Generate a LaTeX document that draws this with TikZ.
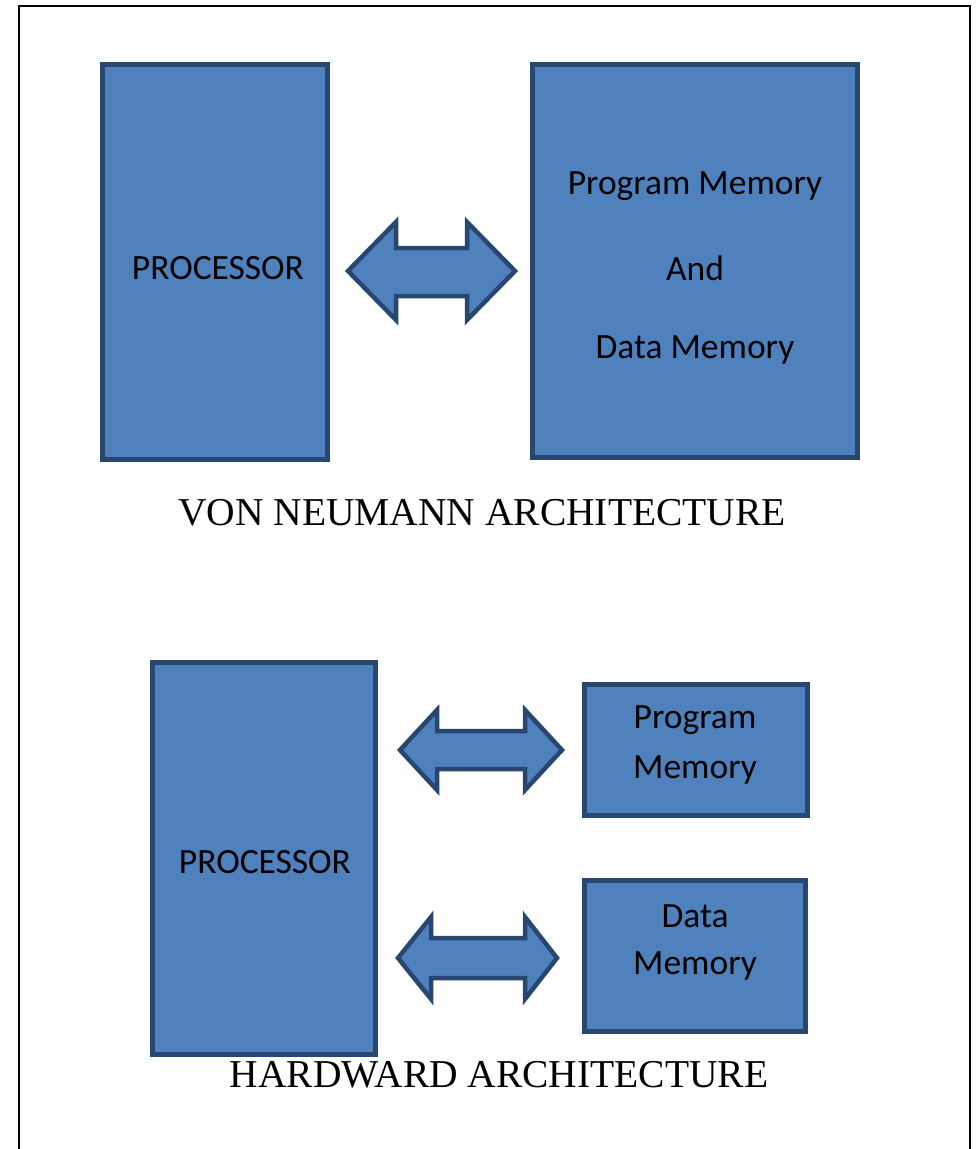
\documentclass[tikz,border=0pt]{standalone}
\usepackage{fontspec}
\setmainfont{Liberation Serif}
\newfontfamily\boxfont{Carlito}
\definecolor{boxfill}{HTML}{4F81BD}
\definecolor{boxline}{HTML}{284770}
\begin{document}
\begin{tikzpicture}[x=1pt,y=-1pt,
  blk/.style={draw=boxline,fill=boxfill,line width=5pt,rectangle,inner sep=0pt,outer sep=0pt,anchor=north west},
  blkarrow/.style={draw=boxline,fill=boxfill,line width=4.5pt,line join=miter},
  boxtxt/.style={font=\boxfont\fontsize{35.5}{40}\selectfont,text=black},
  title/.style={font=\fontsize{39.5}{44}\selectfont,text=black}]
\useasboundingbox (0,0) rectangle (977,1149);
\draw[line width=2pt] (19,1149) -- (19,6) -- (970,6) -- (970,1149);
% Von Neumann
\node[blk,minimum width=225pt,minimum height=395pt] (p1) at (102.5,64.5) {};
\node[blk,minimum width=325pt,minimum height=393pt] (m1) at (532.5,64.5) {};
\node[boxtxt] (p1t) at (218,268) {PROCESSOR};
\node[boxtxt] (m1a) at (695,186) {Program Memory};
\node[boxtxt] (m1b) at (695,268) {And};
\node[boxtxt] (m1c) at (695,350) {Data Memory};
\draw[blkarrow] (348,271) -- (396,222) -- (396,248) -- (467,248) -- (467,222) -- (515,271)
  -- (467,320) -- (467,296) -- (396,296) -- (396,320) -- cycle;
\node[title] (t1) at (482,513) {VON NEUMANN ARCHITECTURE};
% Harvard
\node[blk,minimum width=223pt,minimum height=392pt] (p2) at (152.5,662.5) {};
\node[blk,minimum width=223pt,minimum height=131pt] (pm) at (584.5,684.5) {};
\node[blk,minimum width=221pt,minimum height=151pt] (dm) at (584.5,880.5) {};
\node[boxtxt] (p2t) at (265,862) {PROCESSOR};
\node[boxtxt] (pma) at (695,720) {Program};
\node[boxtxt] (pmb) at (695,770) {Memory};
\node[boxtxt] (dma) at (695,916) {Data};
\node[boxtxt] (dmb) at (695,966) {Memory};
\draw[blkarrow] (400,750) -- (437,710) -- (437,731) -- (525,731) -- (525,710) -- (562,750)
  -- (525,790) -- (525,769) -- (437,769) -- (437,790) -- cycle;
\draw[blkarrow] (398,958) -- (431,917) -- (431,938) -- (525,938) -- (525,917) -- (557,958)
  -- (525,999) -- (525,978) -- (431,978) -- (431,999) -- cycle;
\node[title] (t2) at (499,1075) {HARDWARD ARCHITECTURE};
\end{tikzpicture}
\end{document}
